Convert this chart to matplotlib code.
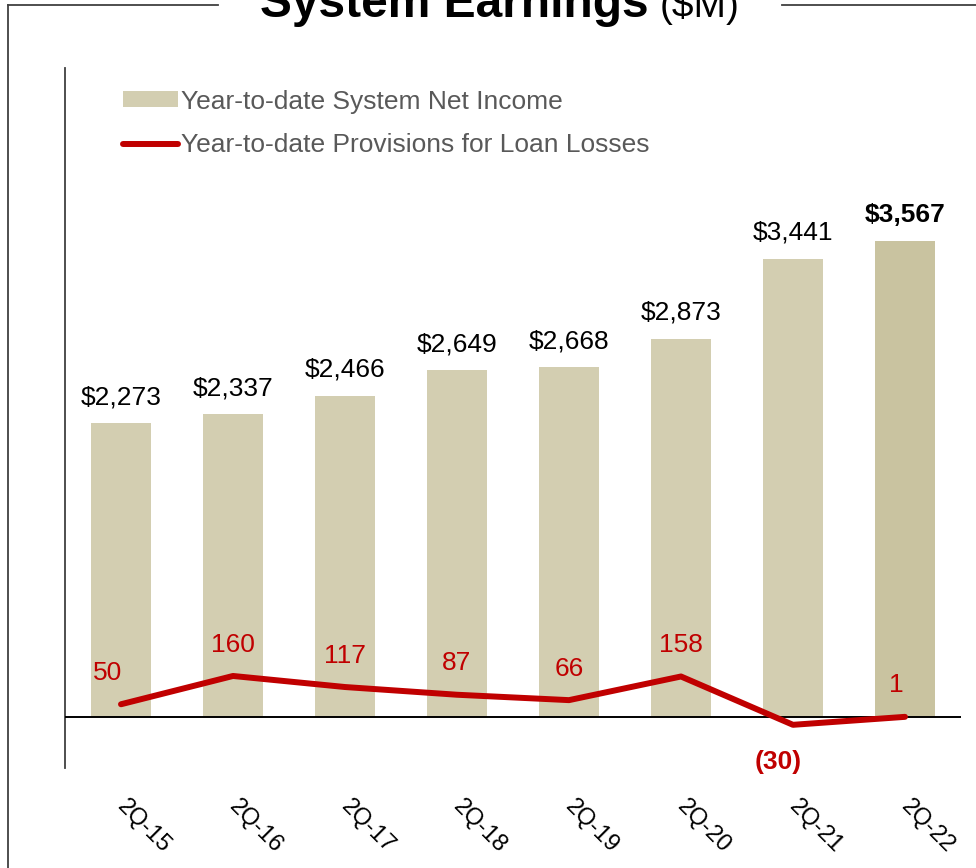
import matplotlib.pyplot as plt
import matplotlib.transforms as mtransforms
from matplotlib.lines import Line2D
from matplotlib.patches import Patch

plt.rcParams['font.family'] = ['Liberation Sans', 'DejaVu Sans']

quarters = ['2Q-15', '2Q-16', '2Q-17', '2Q-18', '2Q-19', '2Q-20', '2Q-21', '2Q-22']
net_income = [2273, 2337, 2466, 2649, 2668, 2873, 3441, 3567]
provisions = [50, 160, 117, 87, 66, 158, -30, 1]

# value where the category axis crosses the income axis
income_floor = 182

bar_color = '#D3CEB1'
last_bar_color = '#C9C3A0'
red = '#C00000'

fig = plt.figure(figsize=(9.76, 8.68), dpi=100)
ax = fig.add_axes([0.0666, 0.1152, 0.918, 0.8065])
ax2 = ax.twinx()

x = list(range(len(quarters)))
colors = [bar_color] * (len(quarters) - 1) + [last_bar_color]
ax.bar(x, [v - income_floor for v in net_income], bottom=income_floor,
       width=0.54, color=colors, zorder=2)
ax.axhline(income_floor, color='black', lw=1.4, zorder=3)

ax.set_xlim(-0.5, 7.5)
ax.set_ylim(-181, 4798)
ax2.set_ylim(-198, 2525)

# net income labels above bars
for i, v in enumerate(net_income):
    last = i == len(net_income) - 1
    ax.annotate(f'${v:,}', (i, v), xytext=(0, 10), textcoords='offset points',
                ha='center', va='bottom', fontsize=19,
                fontweight='bold' if last else 'normal', color='black')

# provisions line and labels
ax2.plot(x, provisions, color=red, lw=4.3, solid_capstyle='round', zorder=4)
label_dx = {0: -10, 7: -6}
for i, v in enumerate(provisions):
    dx = label_dx.get(i, 0)
    if v < 0:
        ax2.annotate(f'({abs(v)})', (i, v), xytext=(-11, -18), textcoords='offset points',
                     ha='center', va='top', fontsize=19, fontweight='bold', color=red)
    else:
        ax2.annotate(str(v), (i, v), xytext=(dx, 14), textcoords='offset points',
                     ha='center', va='bottom', fontsize=19, color=red)

for a in (ax, ax2):
    for side in ('top', 'right', 'bottom'):
        a.spines[side].set_visible(False)
ax2.spines['left'].set_visible(False)
ax2.set_yticks([])
ax.set_yticks([])
ax.spines['left'].set_color('#404040')
ax.spines['left'].set_linewidth(1.3)

ax.set_xticks(x)
ax.set_xticklabels(quarters, rotation=-45, ha='left', va='top', fontsize=17)
ax.tick_params(axis='x', length=0, pad=20)
shift = mtransforms.ScaledTranslation(-8 / 100, 0, fig.dpi_scale_trans)
for lbl in ax.get_xticklabels():
    lbl.set_transform(lbl.get_transform() + shift)

handles = [Patch(facecolor=bar_color, edgecolor='none'),
           Line2D([0], [0], color=red, lw=4.3, solid_capstyle='round')]
leg = ax.legend(handles, ['Year-to-date System Net Income',
                          'Year-to-date Provisions for Loan Losses'],
                loc='upper left', bbox_to_anchor=(0.0524, 0.984), frameon=False,
                fontsize=19, handlelength=2.1, handleheight=0.55,
                handletextpad=0.1, labelspacing=0.74, borderaxespad=0)
for t in leg.get_texts():
    t.set_color('#595959')

# title and frame
fig.text(0.465, 1 - 17 / 868, 'System Earnings', fontsize=34.5, fontweight='bold',
         ha='center', va='baseline')
fig.text(0.676, 1 - 17 / 868, '($M)', fontsize=28, ha='left', va='baseline')
frame_kw = dict(color='#404040', lw=1.3, transform=fig.transFigure)
top = 1 - 5 / 868
fig.add_artist(Line2D([7.5 / 976, 218 / 976], [top, top], **frame_kw))
fig.add_artist(Line2D([782 / 976, 1], [top, top], **frame_kw))
fig.add_artist(Line2D([7.5 / 976, 7.5 / 976], [0, top], **frame_kw))

fig.savefig('out.png', dpi=100)
